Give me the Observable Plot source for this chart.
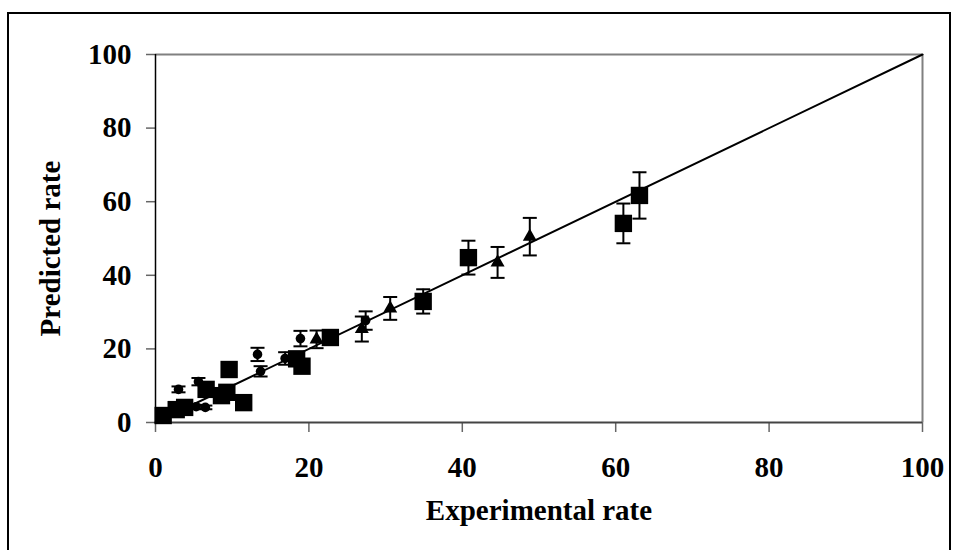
<!DOCTYPE html>
<html><head><meta charset="utf-8">
<script src="https://cdn.jsdelivr.net/npm/d3@7"></script>
<script src="https://cdn.jsdelivr.net/npm/@observablehq/plot@0.6"></script>
<style>
body{margin:0;background:#fff;}
#wrap{position:relative;width:956px;height:550px;overflow:hidden;}
#border{position:absolute;left:7px;top:12px;width:940px;height:560px;border:2px solid #000;pointer-events:none;}
</style></head><body>
<div id="wrap"><div id="border"></div></div>
<script>
// Series: squares
const squareX = [1.0, 2.7, 3.8, 6.6, 8.6, 9.3, 9.6, 11.5, 18.4, 19.1, 22.8, 34.9, 40.8, 61.0, 63.1];
const squareY = [1.9, 3.5, 4.1, 9.0, 7.3, 8.2, 14.4, 5.4, 17.3, 15.3, 23.1, 32.9, 44.8, 54.1, 61.7];
const squareErr = [0.2, 0.6, 0.6, 1.2, 1.0, 1.2, 1.5, 0.8, 1.5, 1.5, 2.0, 3.3, 4.6, 5.4, 6.3];
// Series: triangles
const triX = [21.0, 26.9, 30.6, 44.6, 48.8];
const triY = [22.6, 25.4, 31.0, 43.5, 50.5];
const triErr = [2.4, 3.4, 3.1, 4.2, 5.1];
// Series: circles
const circX = [3.0, 5.6, 5.3, 6.5, 13.3, 13.7, 16.9, 18.9, 27.4];
const circY = [9.0, 11.1, 4.3, 4.1, 18.5, 13.9, 17.4, 22.8, 27.7];
const circErr = [0.8, 1.0, 0.5, 0.5, 1.8, 1.4, 1.7, 2.1, 2.5];
// 1:1 line
const lineX = [0, 100];
const lineY = [0, 100];
const axisTicks = [0, 20, 40, 60, 80, 100];

function rows(xs, ys, es, series) {
  return xs.map((x, i) => ({x, y: ys[i], e: es[i], series}));
}
const squares = rows(squareX, squareY, squareErr, "square");
const triangles = rows(triX, triY, triErr, "triangle");
const circles = rows(circX, circY, circErr, "circle");
const all = [...squares, ...triangles, ...circles];
const oneToOne = lineX.map((x, i) => ({x, y: lineY[i]}));

const capSymbol = {
  draw(context) { context.moveTo(-7, 0); context.lineTo(7, 0); }
};

const font = "'Liberation Serif','Times New Roman',serif";

const chart = Plot.plot({
  width: 956, height: 550,
  marginLeft: 155, marginRight: 34, marginTop: 54, marginBottom: 128,
  style: {fontFamily: font, fontWeight: "bold", fontSize: "29px", background: "transparent", color: "#000", overflow: "visible"},
  x: {domain: [0, 100]},
  y: {domain: [0, 100]},
  marks: [
    Plot.ruleY([100], {stroke: "#808080", strokeWidth: 2}),
    Plot.ruleX([100], {stroke: "#808080", strokeWidth: 2}),
    Plot.axisX({ticks: axisTicks, tickSize: 10, tickPadding: 24, stroke: "#666", strokeWidth: 1.5, fontSize: 29, fontWeight: "bold", fill: "#000", label: null}),
    Plot.axisY({ticks: axisTicks, tickSize: 9, tickPadding: 15, stroke: "#666", strokeWidth: 1.5, fontSize: 29, fontWeight: "bold", fill: "#000", label: null}),
    Plot.ruleY([0], {stroke: "#444", strokeWidth: 2}),
    Plot.ruleX([0], {stroke: "#000", strokeWidth: 1.5}),
    Plot.line(oneToOne, {x: "x", y: "y", stroke: "#000", strokeWidth: 2}),
    Plot.ruleX(all, {x: "x", y1: d => d.y - d.e, y2: d => d.y + d.e, stroke: "#000", strokeWidth: 2}),
    Plot.dot(all, {x: "x", y: d => d.y - d.e, symbol: capSymbol, stroke: "#000", strokeWidth: 2, fill: "none"}),
    Plot.dot(all, {x: "x", y: d => d.y + d.e, symbol: capSymbol, stroke: "#000", strokeWidth: 2, fill: "none"}),
    Plot.dot(squares, {x: "x", y: "y", symbol: "square", r: 9.8, fill: "#000", stroke: "none"}),
    Plot.dot(triangles, {x: "x", y: "y", symbol: "triangle", r: 5.2, fill: "#000", stroke: "none"}),
    Plot.dot(circles, {x: "x", y: "y", symbol: "circle", r: 4.8, fill: "#000", stroke: "none"}),
    Plot.text(["Experimental rate"], {text: d => d, frameAnchor: "bottom", dy: 97, fontSize: 29, fontWeight: "bold", fill: "#000"}),
    Plot.text(["Predicted rate"], {text: d => d, frameAnchor: "left", textAnchor: "middle", dx: -105, dy: 10, rotate: -90, fontSize: 29, fontWeight: "bold", fill: "#000"})
  ]
});
document.getElementById("wrap").appendChild(chart);
</script>
</body></html>
